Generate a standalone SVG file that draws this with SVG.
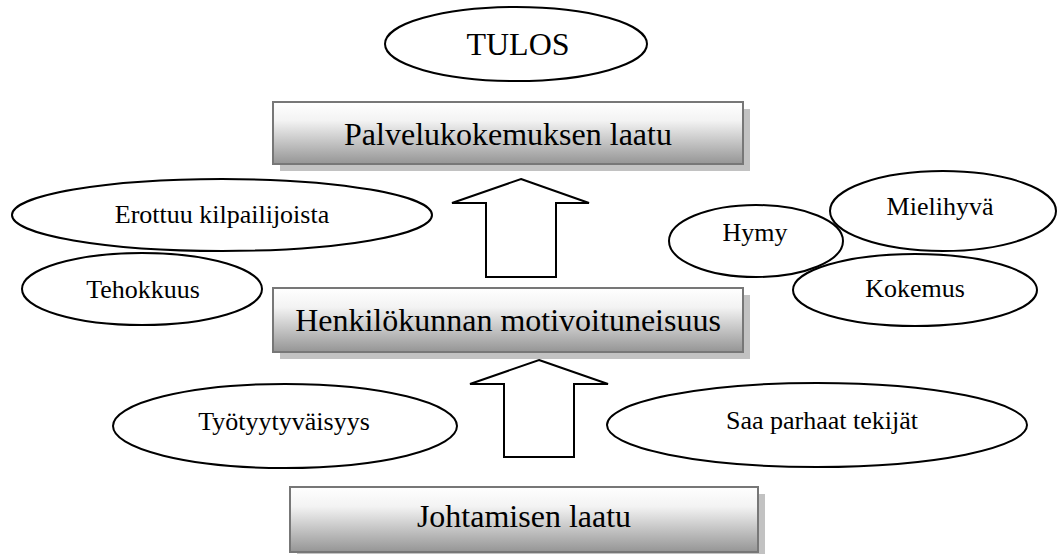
<svg xmlns="http://www.w3.org/2000/svg" width="1058" height="554" viewBox="0 0 1058 554">
  <defs>
    <linearGradient id="boxFill" x1="0" y1="0" x2="0" y2="1">
      <stop offset="0" stop-color="#ffffff"/>
      <stop offset="0.3" stop-color="#f3f3f3"/>
      <stop offset="1" stop-color="#959595"/>
    </linearGradient>
  </defs>
  <style>
    .box { fill: url(#boxFill); stroke: #777777; stroke-width: 2; }
    .shadow { fill: #c2c2c2; }
    .oval { fill: none; stroke: #000000; stroke-width: 2; }
    .arrow { fill: #ffffff; stroke: #000000; stroke-width: 2; stroke-linejoin: miter; }
    .lbl { fill: #000000; text-anchor: middle; }
    .big { font-size: 32px; }
    .small { font-size: 26px; }
  </style>
  <rect width="1058" height="554" fill="#ffffff"/>

  <g font-family="Liberation Serif, DejaVu Serif, Times New Roman, serif">
  <!-- result -->
  <g id="tulos">
    <ellipse class="oval" cx="516" cy="44" rx="131" ry="37"/>
    <text class="lbl big" x="518" y="55">TULOS</text>
  </g>

  <!-- main levels -->
  <g id="palvelukokemus">
    <rect class="shadow" x="280" y="109" width="470" height="62"/>
    <rect class="box" x="273" y="102" width="470" height="62"/>
    <text class="lbl big" x="508" y="145">Palvelukokemuksen laatu</text>
  </g>
  <g id="motivoituneisuus">
    <rect class="shadow" x="280" y="295" width="470" height="64"/>
    <rect class="box" x="273" y="288" width="470" height="64"/>
    <text class="lbl big" x="508" y="331">Henkilökunnan motivoituneisuus</text>
  </g>
  <g id="johtaminen">
    <rect class="shadow" x="297" y="494" width="468" height="65"/>
    <rect class="box" x="290" y="487" width="468" height="65"/>
    <text class="lbl big" x="524" y="527">Johtamisen laatu</text>
  </g>

  <!-- side factors -->
  <g id="erottuu">
    <ellipse class="oval" cx="222" cy="215" rx="210" ry="36"/>
    <text class="lbl small" x="222" y="223">Erottuu kilpailijoista</text>
  </g>
  <g id="tehokkuus">
    <ellipse class="oval" cx="142" cy="289" rx="120" ry="36"/>
    <text class="lbl small" x="143" y="298">Tehokkuus</text>
  </g>
  <g id="hymy">
    <ellipse class="oval" cx="756" cy="241" rx="87" ry="36"/>
    <text class="lbl small" x="755" y="241">Hymy</text>
  </g>
  <g id="mielihyva">
    <ellipse class="oval" cx="943" cy="211" rx="113" ry="40"/>
    <text class="lbl small" x="940" y="215">Mielihyvä</text>
  </g>
  <g id="kokemus">
    <ellipse class="oval" cx="915" cy="290" rx="122" ry="36"/>
    <text class="lbl small" x="915" y="297">Kokemus</text>
  </g>
  <g id="tyotyytyvaisyys">
    <ellipse class="oval" cx="285" cy="426" rx="172" ry="42"/>
    <text class="lbl small" x="284" y="430">Työtyytyväisyys</text>
  </g>
  <g id="tekijat">
    <ellipse class="oval" cx="817" cy="425" rx="210" ry="42"/>
    <text class="lbl small" x="822" y="429">Saa parhaat tekijät</text>
  </g>
  </g>

  <!-- block arrows between levels -->
  <g id="connectors">
    <polygon class="arrow" points="521,179 589,203 556,203 556,277 486,277 486,203 452,203"/>
    <polygon class="arrow" points="539,360 608,384 574,384 574,457 504,457 504,384 470,384"/>
  </g>
</svg>
